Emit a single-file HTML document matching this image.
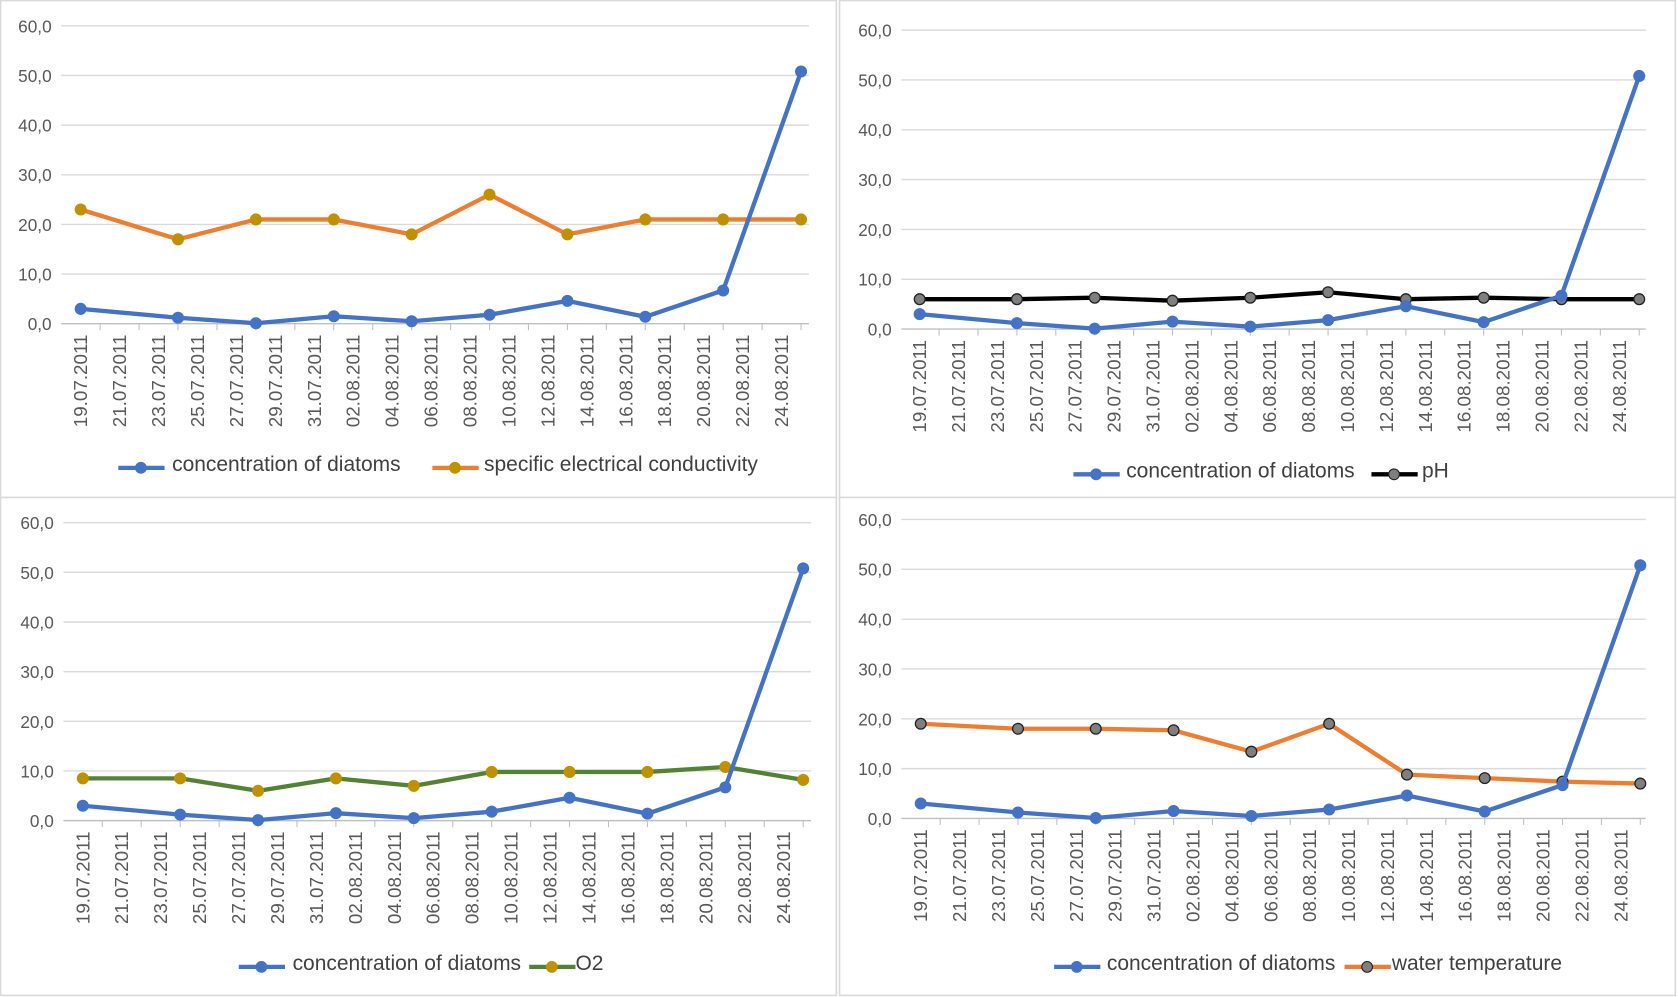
<!DOCTYPE html>
<html><head><meta charset="utf-8"><style>
html,body{margin:0;padding:0;background:#fff;}
svg{display:block;font-family:"Liberation Sans",sans-serif;}
</style></head><body>
<svg id="root" width="1678" height="997" viewBox="0 0 1560 927" preserveAspectRatio="none" xmlns="http://www.w3.org/2000/svg"></svg>
<script>
const sampleDays = [0, 5, 9, 13, 17, 21, 25, 29, 33, 37];
const dateLabels = ["19.07.2011","21.07.2011","23.07.2011","25.07.2011","27.07.2011","29.07.2011","31.07.2011","02.08.2011","04.08.2011","06.08.2011","08.08.2011","10.08.2011","12.08.2011","14.08.2011","16.08.2011","18.08.2011","20.08.2011","22.08.2011","24.08.2011"];
const yTicks = [0, 10, 20, 30, 40, 50, 60];
const yTickLabels = ["0,0","10,0","20,0","30,0","40,0","50,0","60,0"];
const diatoms = [3.0, 1.2, 0.1, 1.5, 0.5, 1.8, 4.6, 1.4, 6.7, 50.8];
const conductivity = [23, 17, 21, 21, 18, 26, 18, 21, 21, 21];
const ph = [6.0, 6.0, 6.3, 5.7, 6.3, 7.4, 6.0, 6.3, 6.0, 6.0];
const oxygen = [8.5, 8.5, 6.0, 8.5, 7.0, 9.8, 9.8, 9.8, 10.8, 8.2];
const waterTemp = [19.0, 18.0, 18.0, 17.7, 13.4, 19.0, 8.8, 8.1, 7.4, 7.0];

const NS = "http://www.w3.org/2000/svg";
const root = document.getElementById('root');
function mk(tag, attrs, parent){const e=document.createElementNS(NS,tag);for(const k in attrs)e.setAttribute(k,attrs[k]);(parent||root).appendChild(e);return e;}

const BLUE="#4472c4";
const panels = [
 {name:"conductivity-chart",fx:0,fy:0,y0:301,y60:24,x0:75,dayW:18.1,left:57,right:752,legY:431,
  second:{name:"conductivity",data:conductivity,color:"#ed7d31",mfill:"#bf9000",label:"specific electrical conductivity",lx:402,tx:450},lx1:110,tx1:160},
 {name:"ph-chart",fx:780,fy:0,y0:306,y60:28,x0:855,dayW:18.08,left:838,right:1530,legY:437,
  second:{name:"ph",data:ph,color:"#000000",mfill:"#7f7f7f",label:"pH",lx:1275,tx:1322},lx1:998,tx1:1047},
 {name:"oxygen-chart",fx:0,fy:462,y0:763,y60:486,x0:77,dayW:18.1,left:59,right:754,legY:895,
  second:{name:"o2",data:oxygen,color:"#548235",mfill:"#bf9000",label:"O2",lx:492,tx:535},lx1:222,tx1:272},
 {name:"temperature-chart",fx:780,fy:462,y0:761,y60:483,x0:856,dayW:18.08,left:838,right:1530,legY:895,
  second:{name:"water-temperature",data:waterTemp,color:"#ed7d31",mfill:"#7f7f7f",label:"water temperature",lx:1250,tx:1294},lx1:980,tx1:1029}
];

panels.forEach(p=>{
  const g=mk('g',{});
  
  
  const fr=mk('rect',{x:p.fx+0.5,y:p.fy+0.5,width:777,height:463,fill:"#fff",stroke:"#d9d9d9","stroke-width":1.5},g);
  
  
  const ys=v=>p.y0-(v/60)*(p.y0-p.y60);
  const xs=d=>p.x0+d*p.dayW;
  yTicks.forEach((t,i)=>{
    const l=mk('line',{x1:p.left,x2:p.right,y1:ys(t),y2:ys(t),stroke:t===0?"#bfbfbf":"#d9d9d9","stroke-width":1.3},g);
    
    
    const tx=mk('text',{x:p.left-9,y:ys(t)+6,"text-anchor":"end","font-size":16,fill:"#595959"},g);
    tx.textContent=yTickLabels[i];
    
    
  });
  dateLabels.forEach((lab,i)=>{
    const x=xs(i*2);
    const tk=mk('line',{x1:x+p.dayW,x2:x+p.dayW,y1:p.y0,y2:p.y0+6,stroke:"#bfbfbf","stroke-width":1},g);
    
    
    const t=mk('text',{x:0,y:0,"text-anchor":"end","font-size":17.5,fill:"#595959",transform:`translate(${x+6},${p.y0+10}) rotate(-90)`},g);
    t.textContent=lab;
    
    
  });
  function series(data,color,mfill,mstroke,nm){
    const pts=data.map((v,i)=>xs(sampleDays[i])+","+ys(v)).join(" ");
    const pl=mk('polyline',{points:pts,fill:"none",stroke:color,"stroke-width":4,"stroke-linejoin":"round"},g);
    
    
    data.forEach((v,i)=>{
      const c=mk('circle',{cx:xs(sampleDays[i]),cy:ys(v),r:5,fill:mfill,stroke:mstroke,"stroke-width":1.2},g);
      
      
    });
  }
  const s=p.second;
  series(s.data,s.color,s.mfill,s.mfill==="#7f7f7f"?"#222":"#bf9000",s.name);
  series(diatoms,BLUE,BLUE,BLUE,"diatoms");
  function legend(lx,tx,color,mfill,label,nm){
    const lg=mk('g',{},g);
    
    
    mk('line',{x1:lx,x2:lx+43,y1:p.legY+4,y2:p.legY+4,stroke:color,"stroke-width":4},lg);
    mk('circle',{cx:lx+21,cy:p.legY+4,r:5,fill:mfill,stroke:mfill==="#7f7f7f"?"#222":mfill},lg);
    const t=mk('text',{x:tx,y:p.legY+7,"font-size":19.5,fill:"#404040"},lg);
    t.textContent=label;
  }
  legend(p.lx1,p.tx1,BLUE,BLUE,"concentration of diatoms","diatoms");
  legend(s.lx,s.tx,s.color,s.mfill,s.label,s.name);
});
</script>
</body></html>
